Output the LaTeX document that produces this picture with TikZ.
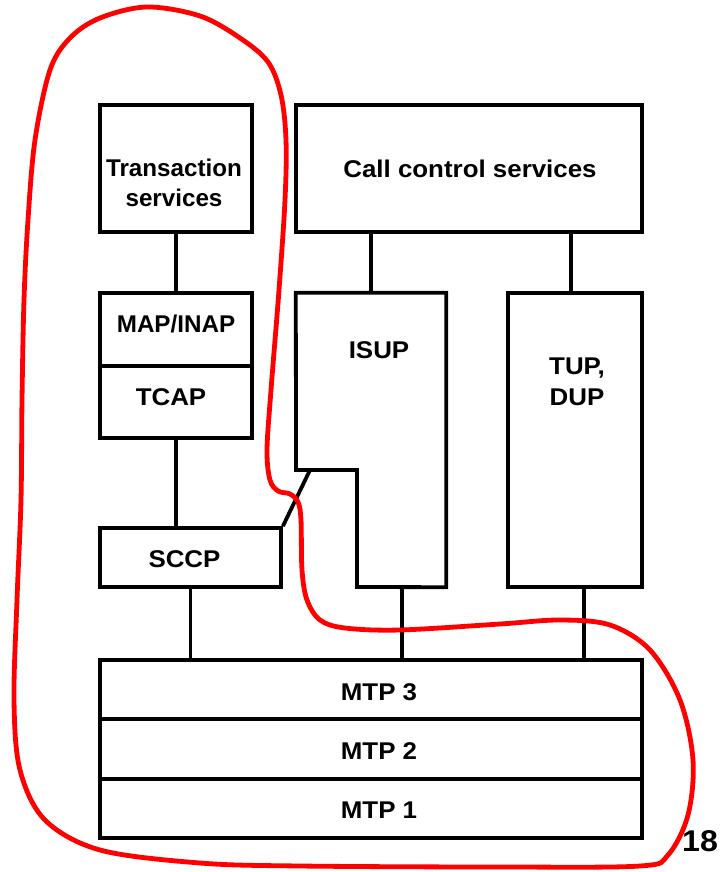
\documentclass[tikz,border=0pt]{standalone}
\usepackage{fontspec}
\setmainfont{Liberation Sans}[FakeStretch=1.07]
\newfontfamily\narrowsans{Liberation Sans}
\begin{document}
\begin{tikzpicture}[x=1pt,y=-1pt,
  box/.style={draw, line width=3.8pt, inner sep=0pt, align=center, font=\fontsize{24.2}{31}\selectfont\bfseries},
  lbl/.style={inner sep=0pt, align=center, font=\fontsize{24.2}{31}\selectfont\bfseries},
  narrow/.style={font=\narrowsans\fontsize{24.2}{30}\selectfont\bfseries},
  conn/.style={line width=3.8pt},
  loop/.style={draw=red, line width=4.8pt}]
\useasboundingbox (0,0) rectangle (721,872);
% boxes
\node[box, minimum width=152pt, minimum height=127pt] (ts) at (176,168.5) {};
\node[lbl, narrow] (tslbl) at (174,182.5) {Transaction\\services};
\node[box, minimum width=346pt, minimum height=127pt] (cc) at (469,168.5) {};
\node[lbl] (cclbl) at (470,168.5) {Call control services};
\node[box, minimum width=152pt, minimum height=73pt] (map) at (176,329.5) {};
\node[lbl, narrow] (maplbl) at (176,323.5) {MAP/INAP};
\node[box, minimum width=152pt, minimum height=72pt] (tcap) at (176,402) {};
\node[lbl] (tcaplbl) at (171,397) {TCAP};
\node[box, minimum width=181pt, minimum height=59pt] (sccp) at (190.5,557.5) {};
\node[lbl] (sccplbl) at (184.5,559) {SCCP};
\node[box, minimum width=134pt, minimum height=294pt] (tup) at (575,440) {};
\node[lbl] (tuplbl) at (577,381.5) {TUP,\\DUP};
\node[inner sep=0pt, minimum width=150pt, minimum height=294pt] (isup) at (371,440) {};
\node[lbl] (isuplbl) at (379,350) {ISUP};
\draw[conn, line join=miter] (isup.north west) -- (isup.north east) -- (isup.south east) -- (357,587) -- (357,470) -- (296,470) -- cycle;
\node[box, minimum width=542pt, minimum height=59pt] (mtp3) at (371,689.5) {};
\node[lbl] (mtp3lbl) at (379,692) {MTP 3};
\node[box, minimum width=542pt, minimum height=60pt] (mtp2) at (371,749) {};
\node[lbl] (mtp2lbl) at (379,751) {MTP 2};
\node[box, minimum width=542pt, minimum height=59pt] (mtp1) at (371,808.5) {};
\node[lbl] (mtp1lbl) at (379,810.5) {MTP 1};
\node[lbl, font=\fontsize{30}{34}\selectfont\bfseries] (pg) at (700,841) {18};
% connectors
\draw[conn] (ts.south) -- (map.north);
\draw[conn] (tcap.south) -- (sccp.north -| tcap.south);
\draw[conn] (cc.south -| 371,0) -- (isup.north -| 371,0);
\draw[conn] (cc.south -| 571,0) -- (tup.north -| 571,0);
\draw[conn] (sccp.south) -- (mtp3.north -| sccp.south);
\draw[conn] (isup.south -| 402,0) -- (mtp3.north -| 402,0);
\draw[conn] (tup.south -| 584,0) -- (mtp3.north -| 584,0);
\coordinate (notch) at (310,470);
\draw[conn] (notch) -- (sccp.north east);
% red loop
\draw[loop] plot[smooth cycle, tension=0.55] coordinates {
 (147,7) (200,16) (240,38) (268,62) (281,95) (286,140) (285,200) (279,290)
 (271,390) (267,450) (270,480) (278,491) (290,494) (298,502) (301,520) (302,570)
 (307,600) (320,620) (345,628) (400,630) (500,624) (560,620) (610,625) (650,650)
 (680,700) (693,760) (688,815) (668,855) (640,866) (500,867) (300,866) (200,863)
 (100,850) (45,820) (20,770) (14,700) (17,600) (21,500) (22,400) (24,300)
 (28,220) (35,140) (50,70) (70,38) (100,18)};
\end{tikzpicture}
\end{document}
